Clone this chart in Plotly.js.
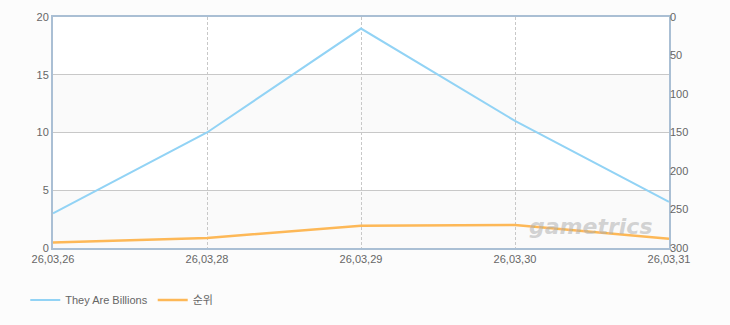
<!DOCTYPE html>
<html><head><meta charset="utf-8">
<script src="https://cdn.plot.ly/plotly-3.0.1.min.js"></script>
<style>html,body{margin:0;padding:0;background:#fcfcfc;}#c{width:730px;height:325px;}</style>
</head><body><div id="c"></div>
<script>
const dates = ["26,03,26","26,03,28","26,03,29","26,03,30","26,03,31"];
const players = [3, 10, 19, 11, 4];
const rank = [293, 287, 271, 270, 288];
const leftTicks = [0,5,10,15,20];
const rightTicks = [0,50,100,150,200,250,300];

const font = {family:"Liberation Sans, Noto Sans CJK KR", size:11, color:"#666"};
const traces = [
 {x:dates, y:players, name:"They Are Billions", type:"scatter", mode:"lines",
  line:{color:"#92d3f5", width:2}, yaxis:"y"},
 {x:dates, y:rank, name:"순위", type:"scatter", mode:"lines",
  line:{color:"#fdb857", width:2.5}, yaxis:"y2"}
];
const bands = [[0,5],[10,15]].map(b=>({type:"rect", xref:"paper", yref:"y", x0:0, x1:1, y0:b[0], y1:b[1],
  fillcolor:"#fafafa", line:{width:0}, layer:"below"}));
const layout = {
 width:730, height:325, margin:{l:53, r:61, t:17, b:76},
 paper_bgcolor:"#fcfcfc", plot_bgcolor:"#ffffff", font:font,
 showlegend:true,
 legend:{orientation:"h", x:-0.045, xanchor:"left", y:-0.22, yanchor:"middle", font:font, bgcolor:"rgba(0,0,0,0)", itemwidth:30},
 xaxis:{type:"category", range:[0,4], showgrid:true, gridcolor:"#c8c8c8", griddash:"3px,2px", gridwidth:1,
   showline:true, linecolor:"#aabfd4", linewidth:2, mirror:true, ticks:"", tickfont:font, zeroline:false, fixedrange:true},
 yaxis:{range:[0,20], tickvals:leftTicks, showgrid:true, gridcolor:"#c8c8c8", gridwidth:1, zeroline:false,
   showline:true, linecolor:"#aabfd4", linewidth:2, mirror:true, ticks:"", tickfont:font},
 yaxis2:{overlaying:"y", side:"right", range:[300,0], tickvals:rightTicks, showgrid:false, zeroline:false,
   showline:false, ticks:"", tickfont:font},
 shapes:bands,
 annotations:[{text:"<b><i>gametrics</i></b>", xref:"paper", yref:"paper", x:0.975, y:0.03, xanchor:"right", yanchor:"bottom",
   showarrow:false, font:{family:"DejaVu Sans", size:22, color:"rgba(175,175,175,0.55)"}}]
};
Plotly.newPlot("c", traces, layout, {displayModeBar:false, staticPlot:true});
</script></body></html>
